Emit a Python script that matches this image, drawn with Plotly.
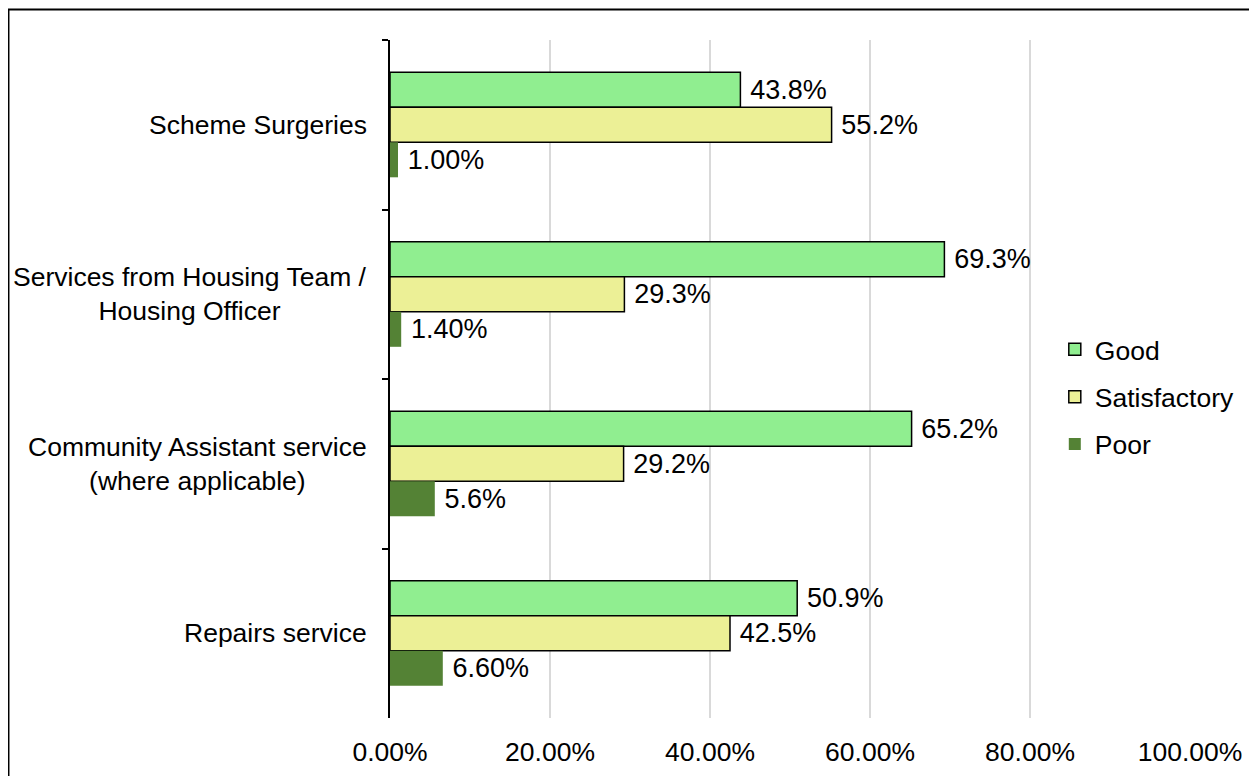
import plotly.graph_objects as go

categories = ["Scheme Surgeries", "Services from Housing Team /<br>Housing Officer",
              "Community Assistant service<br>(where applicable)", "Repairs service"]
series_names = ["Good", "Satisfactory", "Poor"]
good = [43.8, 69.3, 65.2, 50.9]
satisfactory = [55.2, 29.3, 29.2, 42.5]
poor = [1.0, 1.4, 5.6, 6.6]
good_labels = ["43.8%", "69.3%", "65.2%", "50.9%"]
satisfactory_labels = ["55.2%", "29.3%", "29.2%", "42.5%"]
poor_labels = ["1.00%", "1.40%", "5.6%", "6.60%"]
tick_vals = [0, 20, 40, 60, 80, 100]
tick_text = ["0.00%", "20.00%", "40.00%", "60.00%", "80.00%", "100.00%"]

colors = ["#90EE90", "#ECF096", "#548235"]
outlines = [("black", 1.5), ("black", 1.5), ("#548235", 0)]
values = [good, satisfactory, poor]
labels = [good_labels, satisfactory_labels, poor_labels]

FONT = "Liberation Sans, Arial, sans-serif"
fig = go.Figure()
for name, vals, labs, col, (lc, lw) in zip(series_names, values, labels, colors, outlines):
    fig.add_trace(go.Bar(
        y=categories, x=vals, name=name, orientation="h",
        marker=dict(color=col, line=dict(color=lc, width=lw)),
        text=labs, texttemplate="\u2005%{text}", textposition="outside",
        textfont=dict(size=27, color="black", family=FONT),
        cliponaxis=False, legendgroup=name,
    ))

for c in categories:
    fig.add_annotation(x=0, xref="paper", y=c, yref="y", text=c, showarrow=False,
                       xanchor="right", xshift=-21, align="center",
                       font=dict(size=26.5, color="black", family=FONT))

fig.add_shape(type="rect", xref="paper", yref="paper", x0=-0.4769, x1=1.1, y0=-0.12, y1=1.045,
              line=dict(color="black", width=2), fillcolor="rgba(0,0,0,0)", layer="below")

fig.update_layout(
    width=1257, height=776,
    margin=dict(l=382, r=75, t=32, b=66),
    barmode="group", bargap=0.38, bargroupgap=0,
    plot_bgcolor="white", paper_bgcolor="white",
    font=dict(family=FONT, size=26.5, color="black"),
    legend=dict(x=0.831, y=0.4735, xanchor="left", yanchor="middle",
                font=dict(size=26.5), tracegroupgap=10, itemwidth=30,
                bgcolor="rgba(0,0,0,0)"),
    xaxis=dict(range=[0, 100], tickvals=tick_vals, ticktext=tick_text,
               showgrid=True, gridcolor="#D9D9D9", gridwidth=2,
               zeroline=False, showline=False, ticks="",
               ticklabelstandoff=15, tickfont=dict(size=26.5)),
    yaxis=dict(autorange="reversed", showticklabels=False, showline=True,
               linecolor="black", linewidth=2, ticks="outside", ticklen=6,
               tickwidth=2, tickcolor="black", tickson="boundaries",
               showgrid=False),
    showlegend=True,
)

fig.write_html("out.html")
